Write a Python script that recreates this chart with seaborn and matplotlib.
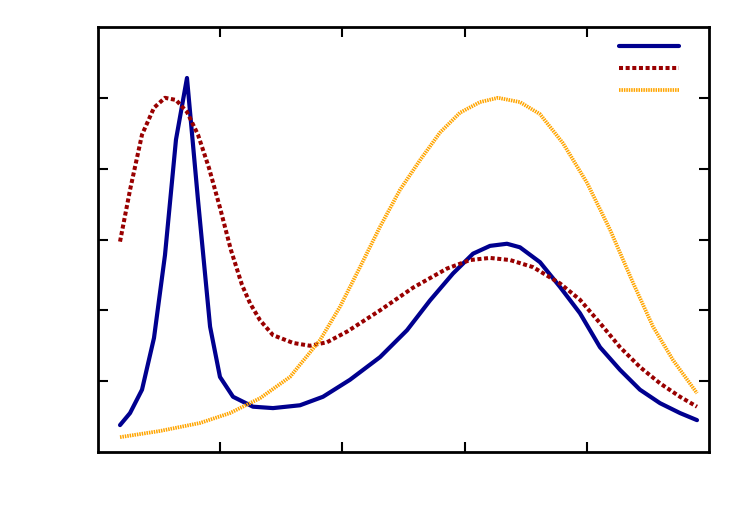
import numpy as np
import pandas as pd
import matplotlib
matplotlib.use('Agg')
import matplotlib.pyplot as plt
import seaborn as sns

# series values (axis units: x 0..5, y 0..6)
blue_x = [0.18, 0.262, 0.36, 0.458, 0.548, 0.638, 0.728, 0.818, 0.917, 0.998, 1.105, 1.268,
          1.432, 1.653, 1.841, 2.062, 2.308, 2.529, 2.717, 2.905, 3.069, 3.208, 3.347, 3.453,
          3.617, 3.781, 3.944, 4.108, 4.272, 4.435, 4.599, 4.763, 4.902]
blue_y = [0.38, 0.55, 0.88, 1.61, 2.78, 4.41, 5.28, 3.56, 1.77, 1.06, 0.78, 0.64,
          0.62, 0.66, 0.78, 1.02, 1.34, 1.72, 2.14, 2.52, 2.80, 2.91, 2.94, 2.89,
          2.68, 2.33, 1.96, 1.48, 1.16, 0.88, 0.69, 0.55, 0.45]

red_x = [0.18, 0.262, 0.36, 0.458, 0.548, 0.638, 0.728, 0.818, 0.908, 0.998, 1.088, 1.178,
         1.244, 1.326, 1.432, 1.596, 1.735, 1.874, 2.038, 2.308, 2.578, 2.856, 3.044, 3.208,
         3.372, 3.56, 3.781, 3.944, 4.108, 4.272, 4.435, 4.599, 4.763, 4.902]
red_y = [2.97, 3.70, 4.48, 4.86, 5.00, 4.97, 4.80, 4.48, 4.01, 3.45, 2.85, 2.36,
         2.10, 1.86, 1.65, 1.54, 1.50, 1.55, 1.70, 2.00, 2.32, 2.59, 2.71, 2.74,
         2.71, 2.61, 2.38, 2.15, 1.82, 1.48, 1.20, 0.97, 0.78, 0.64]

orange_x = [0.18, 0.507, 0.835, 1.08, 1.326, 1.571, 1.817, 1.98, 2.144, 2.308, 2.471, 2.635,
            2.799, 2.962, 3.126, 3.273, 3.453, 3.617, 3.805, 4.002, 4.19, 4.378, 4.542,
            4.705, 4.902]
orange_y = [0.21, 0.297, 0.41, 0.55, 0.76, 1.06, 1.58, 2.05, 2.61, 3.18, 3.70, 4.12,
            4.51, 4.79, 4.94, 5.00, 4.94, 4.77, 4.36, 3.80, 3.14, 2.39, 1.77,
            1.30, 0.83]

x_ticks = [1, 2, 3, 4]
y_ticks = [1, 2, 3, 4, 5]

sns.set_style('white')
plt.rcParams['font.family'] = ['DejaVu Sans']

fig = plt.figure(figsize=(7.5, 5.25), dpi=100)
ax = fig.add_axes([0.1307, 0.139, 0.8146, 0.8096])

sns.lineplot(x=blue_x, y=blue_y, ax=ax, color='#00008f', lw=3.0, label=' ',
             sort=False)
sns.lineplot(x=red_x, y=red_y, ax=ax, color='#990000', lw=2.9, label=' ',
             linestyle=(0, (1.0, 0.65)), sort=False)
sns.lineplot(x=orange_x, y=orange_y, ax=ax, color='#ffa500', lw=2.7, label=' ',
             linestyle=(0, (0.4, 0.25)), sort=False)

ax.set_xlim(0, 5)
ax.set_ylim(0, 6)
ax.set_xticks(x_ticks)
ax.set_yticks(y_ticks)
ax.set_xticklabels([])
ax.set_yticklabels([])
ax.tick_params(direction='in', length=7, width=1.5, top=True, right=True,
               bottom=True, left=True, color='black')
for sp in ax.spines.values():
    sp.set_visible(True)
    sp.set_linewidth(2)
    sp.set_color('black')

leg = ax.legend(loc='upper right', bbox_to_anchor=(0.988, 1.0), frameon=False,
                handlelength=4.3, handletextpad=0.4, labelspacing=0.6, fontsize=10)

fig.savefig('out.png', dpi=100)
